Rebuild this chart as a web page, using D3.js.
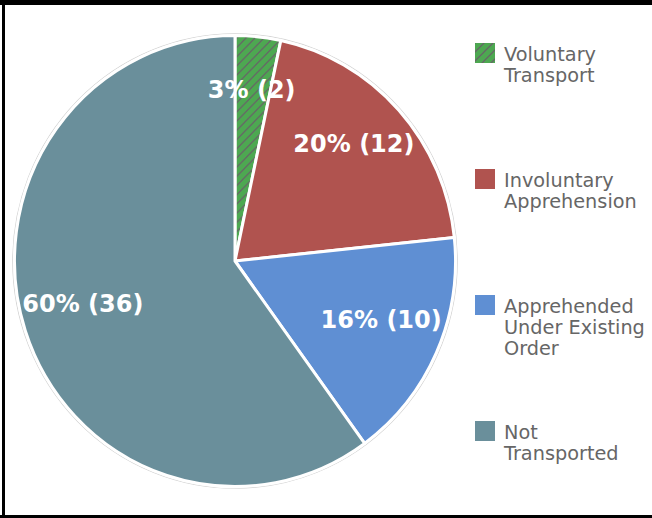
<!DOCTYPE html>
<html>
<head>
<meta charset="utf-8">
<script src="https://cdn.jsdelivr.net/npm/d3@7"></script>
<style>
  body { margin: 0; background: #fff; }
  svg { display: block; }
  .sliceLabel { font-family: "DejaVu Sans", sans-serif; font-weight: bold; font-size: 24px; fill: #fff; }
  .legendText { font-family: "DejaVu Sans", sans-serif; font-size: 19.3px; fill: #666; }
</style>
</head>
<body>
<div id="chart"></div>
<script>
var categories = ["Voluntary Transport", "Involuntary Apprehension", "Apprehended Under Existing Order", "Not Transported"];
var counts = [2, 12, 10, 36];
var legendLines = [["Voluntary", "Transport"], ["Involuntary", "Apprehension"], ["Apprehended", "Under Existing", "Order"], ["Not", "Transported"]];
var colors = ["#4da851", "#b0534f", "#5f8fd3", "#6a8f9b"];

var width = 652, height = 518;
var cx = 235, cy = 261, rx = 220.5, ry = 225.5;
var sy = ry / rx;

var total = d3.sum(counts);
var data = categories.map(function(c, i) { return {name: c, value: counts[i], color: colors[i], hatch: i === 0}; });

var svg = d3.select("#chart").append("svg")
	.attr("width", width)
	.attr("height", height);

var defs = svg.append("defs");

// diagonal hatch for the voluntary slice and its swatch
function hatch(id, size) {
	var p = defs.append("pattern")
		.attr("id", id)
		.attr("patternUnits", "userSpaceOnUse")
		.attr("width", size)
		.attr("height", size);
	p.append("rect").attr("width", size).attr("height", size).attr("fill", colors[0]);
	p.append("path")
		.attr("d", "M-2,2 l4,-4 M0," + size + " l" + size + ",-" + size + " M" + (size - 2) + "," + (size + 2) + " l4,-4")
		.attr("stroke", "#666")
		.attr("stroke-width", 1.3);
}
hatch("hatch", 9);
hatch("hatchLegend", 9);

// frame
svg.append("rect").attr("x", 0).attr("y", 0).attr("width", width).attr("height", 5).attr("fill", "#000");
svg.append("rect").attr("x", 2).attr("y", 0).attr("width", 3).attr("height", height).attr("fill", "#000");
svg.append("rect").attr("x", 0).attr("y", 515).attr("width", width).attr("height", 3).attr("fill", "#000");

var pie = d3.pie().sort(null).value(function(d) { return d.value; });
var arc = d3.arc().innerRadius(0).outerRadius(rx);
var labelArc = d3.arc().innerRadius(160).outerRadius(160);

var g = svg.append("g")
	.attr("transform", "translate(" + cx + "," + cy + ") scale(1," + sy + ")");

g.append("circle")
	.attr("r", rx + 1.8)
	.attr("fill", "none")
	.attr("stroke", "#d4d4d4")
	.attr("stroke-width", 1);

g.selectAll(".slice")
	.data(pie(data))
	.enter().append("path")
	.attr("class", "slice")
	.attr("d", arc)
	.attr("fill", function(d) { return d.data.hatch ? "url(#hatch)" : d.data.color; })
	.attr("stroke", "#fff")
	.attr("stroke-width", 3)
	.attr("stroke-linejoin", "round");

svg.selectAll(".sliceLabel")
	.data(pie(data))
	.enter().append("text")
	.attr("class", "sliceLabel")
	.attr("text-anchor", "middle")
	.attr("x", function(d) { return cx + labelArc.centroid(d)[0]; })
	.attr("y", function(d) { return cy + labelArc.centroid(d)[1] * sy; })
	.text(function(d) { return Math.floor(d.data.value / total * 100) + "% (" + d.data.value + ")"; });

// legend
var legend = svg.selectAll(".legendItem")
	.data(data)
	.enter().append("g")
	.attr("class", "legendItem")
	.attr("transform", function(d, i) { return "translate(475," + (43 + i * 126) + ")"; });

legend.append("rect")
	.attr("width", 20)
	.attr("height", 20)
	.attr("fill", function(d) { return d.hatch ? "url(#hatchLegend)" : d.color; });

legend.append("text")
	.attr("class", "legendText")
	.attr("x", 29)
	.attr("y", 18)
	.selectAll("tspan")
	.data(function(d, i) { return legendLines[i]; })
	.enter().append("tspan")
	.attr("x", 29)
	.attr("dy", function(d, i) { return i === 0 ? 0 : 21; })
	.text(function(d) { return d; });
</script>
</body>
</html>
